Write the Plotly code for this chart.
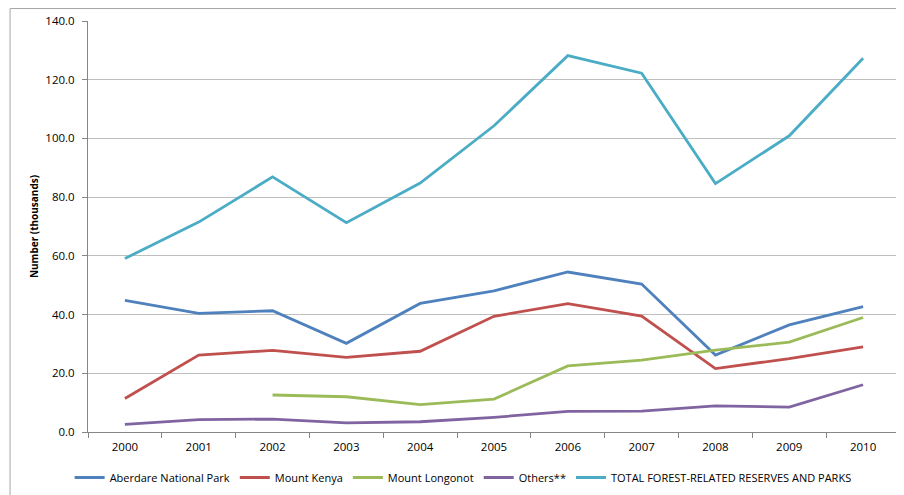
import plotly.graph_objects as go

years = ["2000", "2001", "2002", "2003", "2004", "2005", "2006", "2007", "2008", "2009", "2010"]
aberdare = [44.8, 40.4, 41.3, 30.2, 43.8, 48.1, 54.5, 50.4, 26.2, 36.5, 42.7]
mount_kenya = [11.4, 26.2, 27.8, 25.4, 27.5, 39.4, 43.7, 39.5, 21.6, 25.0, 29.0]
mount_longonot = [None, None, 12.6, 12.0, 9.3, 11.2, 22.5, 24.5, 27.9, 30.6, 39.0]
others = [2.6, 4.2, 4.4, 3.1, 3.5, 5.0, 7.0, 7.1, 8.9, 8.5, 16.1]
total = [59.1, 71.5, 86.9, 71.3, 84.8, 104.3, 128.2, 122.2, 84.6, 100.9, 127.3]

series = [
    ("Aberdare National Park", aberdare, "#4F81BD"),
    ("Mount Kenya", mount_kenya, "#C0504D"),
    ("Mount Longonot", mount_longonot, "#9BBB59"),
    ("Others**", others, "#8064A2"),
    ("TOTAL FOREST-RELATED RESERVES AND PARKS", total, "#4BACC6"),
]

FONT = "Open Sans"

fig = go.Figure()
for name, vals, color in series:
    fig.add_trace(go.Scatter(
        x=years, y=vals, name=name, mode="lines",
        line=dict(color=color, width=2.8),
        connectgaps=False,
    ))

fig.update_layout(
    width=896, height=487,
    margin=dict(l=80, r=4, t=13, b=62),
    paper_bgcolor="white", plot_bgcolor="white",
    font=dict(family=FONT, size=11, color="#000000"),
    showlegend=True,
    legend=dict(orientation="h", x=0.462, xanchor="center", y=-0.108, yanchor="middle",
                font=dict(family=FONT, size=11, color="#000000"),
                itemwidth=30, tracegroupgap=0),
    xaxis=dict(
        type="category", tickson="boundaries", ticks="outside", ticklen=5,
        tickcolor="#868686", showline=True, linecolor="#868686", linewidth=1,
        showgrid=False, range=[-0.5, 10.5],
        tickfont=dict(family=FONT, size=11.5),
        ticklabelstandoff=4,
    ),
    yaxis=dict(
        range=[0, 140], dtick=20, tickformat=".1f",
        ticks="outside", ticklen=5, tickcolor="#868686",
        showline=True, linecolor="#868686", linewidth=1,
        showgrid=True, gridcolor="#BFBFBF", gridwidth=1,
        zeroline=False,
        tickfont=dict(family=FONT, size=11.5),
        ticklabelstandoff=5,
        title=dict(text="<b>Number (thousands)</b>", font=dict(family=FONT, size=10), standoff=4),
    ),
    shapes=[dict(type="rect", xref="paper", yref="paper",
                 x0=-0.096, x1=1.02, y0=-0.2, y1=1.0303,
                 line=dict(color="#A6A6A6", width=1), layer="below")],
)

fig.write_html("out.html")
